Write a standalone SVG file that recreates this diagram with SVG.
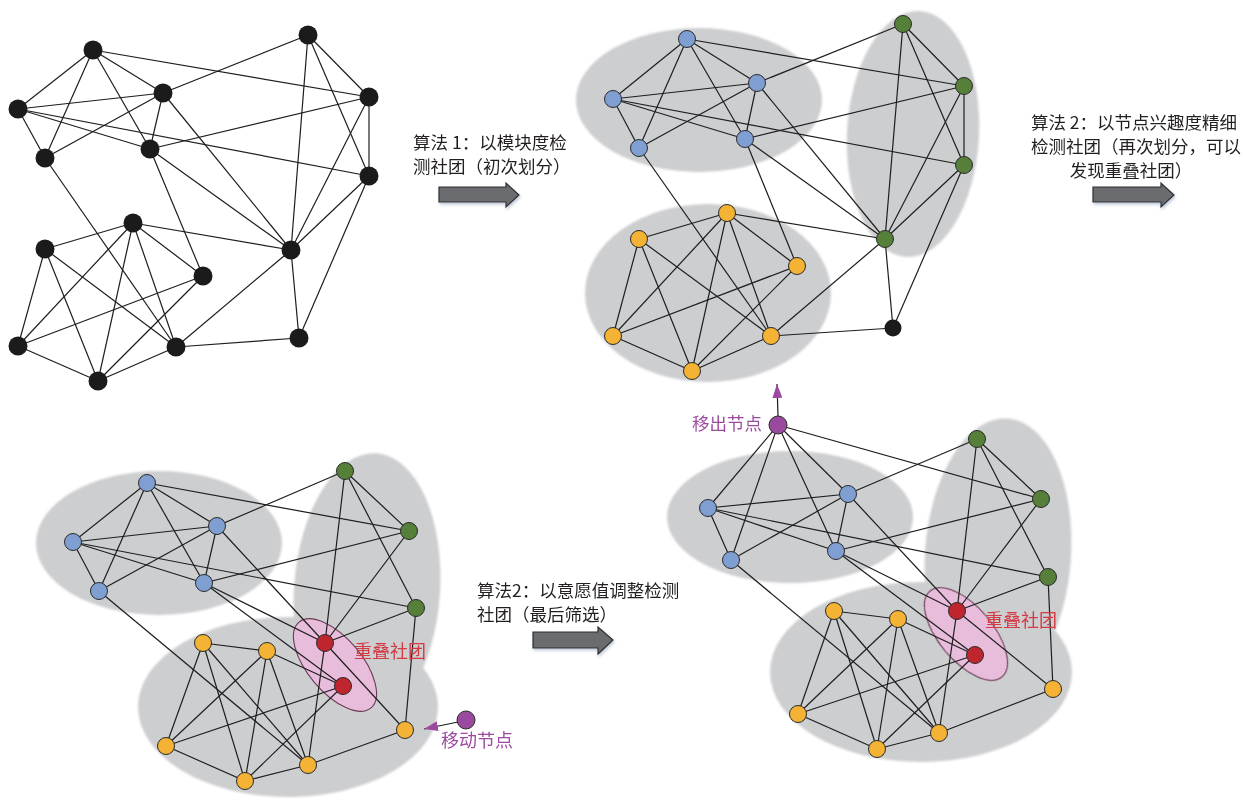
<svg xmlns="http://www.w3.org/2000/svg" width="1243" height="800" viewBox="0 0 1243 800">
  <style>
    .e { stroke: #1e1e1e; stroke-width: 1.2; fill: none; }
    .blk { fill: #1b1b1b; }
    .blu { fill: #7f9fd2; stroke: #2a2a2a; stroke-width: 1; }
    .grn { fill: #56803a; stroke: #2a2a2a; stroke-width: 1; }
    .yel { fill: #f4b334; stroke: #2a2a2a; stroke-width: 1; }
    .red { fill: #bf252c; stroke: #2a2a2a; stroke-width: 1; }
    .pur { fill: #994a9e; stroke: #2a2a2a; stroke-width: 1; }
    .zone { fill: #cdced0; }
    .pink { fill: #e8bddb; stroke: #6a3a55; stroke-width: 1.1; }
    .cap { font-family: "Noto Sans CJK SC", "Noto Sans", sans-serif; font-size: 17.5px; fill: #231f20; }
    .lab { font-family: "Noto Sans CJK SC", "Noto Sans", sans-serif; font-size: 18px; }
    .blockarrow { fill: #6b6c6f; stroke: #2e2e2e; stroke-width: 1.2; }
  </style>
  <defs>
    <filter id="soft" x="-10%" y="-10%" width="120%" height="120%">
      <feGaussianBlur stdDeviation="1.2"/>
    </filter>
    <filter id="shadow" x="-20%" y="-40%" width="140%" height="180%">
      <feDropShadow dx="1" dy="2" stdDeviation="1.5" flood-color="#7f93b0" flood-opacity="0.5"/>
    </filter>
    <marker id="purpleHead" viewBox="0 0 14 10" refX="14" refY="5" markerWidth="14" markerHeight="10" markerUnits="userSpaceOnUse" orient="auto">
      <path d="M0,0 L14,5 L0,10 z" fill="#9b4a9f"/>
    </marker>
  </defs>

  <rect width="1243" height="800" fill="#ffffff"/>

  <!-- community zones -->
  <g id="zones" filter="url(#soft)">
    <!-- top-right panel -->
    <ellipse class="zone" cx="699" cy="100" rx="123" ry="72"/>
    <ellipse class="zone" cx="913" cy="134" rx="66" ry="123" transform="rotate(3 913 134)"/>
    <ellipse class="zone" cx="708" cy="293" rx="123" ry="89"/>
    <!-- bottom-right panel -->
    <ellipse class="zone" cx="790" cy="517" rx="123" ry="66"/>
    <ellipse class="zone" cx="998" cy="555" rx="73" ry="137" transform="rotate(4 998 555)"/>
    <ellipse class="zone" cx="921" cy="672" rx="151" ry="90"/>
    <!-- bottom-left panel -->
    <ellipse class="zone" cx="159" cy="543" rx="123" ry="72"/>
    <ellipse class="zone" cx="367" cy="590" rx="73" ry="137" transform="rotate(4 367 590)"/>
    <ellipse class="zone" cx="288" cy="707" rx="150" ry="90"/>
  </g>
  <g id="overlap-zones">
    <ellipse class="pink" cx="966" cy="634" rx="56" ry="27" transform="rotate(50 966 634)"/>
    <ellipse class="pink" cx="335" cy="665" rx="56" ry="27" transform="rotate(50 335 665)"/>
  </g>

  <!-- connectors -->
  <g id="connectors" class="e">
    <!-- top-left graph -->
    <line x1="93" y1="50" x2="18" y2="109"/>
    <line x1="93" y1="50" x2="45" y2="158"/>
    <line x1="93" y1="50" x2="163" y2="93"/>
    <line x1="93" y1="50" x2="150" y2="149"/>
    <line x1="93" y1="50" x2="369" y2="97"/>
    <line x1="18" y1="109" x2="163" y2="93"/>
    <line x1="18" y1="109" x2="45" y2="158"/>
    <line x1="18" y1="109" x2="150" y2="149"/>
    <line x1="18" y1="109" x2="369" y2="176"/>
    <line x1="45" y1="158" x2="163" y2="93"/>
    <line x1="45" y1="158" x2="176" y2="347"/>
    <line x1="163" y1="93" x2="150" y2="149"/>
    <line x1="163" y1="93" x2="308" y2="35"/>
    <line x1="163" y1="93" x2="291" y2="250"/>
    <line x1="150" y1="149" x2="369" y2="97"/>
    <line x1="150" y1="149" x2="291" y2="250"/>
    <line x1="150" y1="149" x2="203" y2="276"/>
    <line x1="308" y1="35" x2="291" y2="250"/>
    <line x1="308" y1="35" x2="369" y2="97"/>
    <line x1="308" y1="35" x2="369" y2="176"/>
    <line x1="369" y1="97" x2="369" y2="176"/>
    <line x1="369" y1="97" x2="291" y2="250"/>
    <line x1="369" y1="176" x2="291" y2="250"/>
    <line x1="369" y1="176" x2="299" y2="338"/>
    <line x1="291" y1="250" x2="133" y2="223"/>
    <line x1="291" y1="250" x2="299" y2="338"/>
    <line x1="291" y1="250" x2="176" y2="347"/>
    <line x1="133" y1="223" x2="45" y2="249"/>
    <line x1="133" y1="223" x2="18" y2="346"/>
    <line x1="133" y1="223" x2="98" y2="381"/>
    <line x1="133" y1="223" x2="176" y2="347"/>
    <line x1="133" y1="223" x2="203" y2="276"/>
    <line x1="45" y1="249" x2="18" y2="346"/>
    <line x1="45" y1="249" x2="98" y2="381"/>
    <line x1="45" y1="249" x2="176" y2="347"/>
    <line x1="203" y1="276" x2="18" y2="346"/>
    <line x1="203" y1="276" x2="98" y2="381"/>
    <line x1="18" y1="346" x2="98" y2="381"/>
    <line x1="98" y1="381" x2="176" y2="347"/>
    <line x1="176" y1="347" x2="299" y2="338"/>

    <!-- top-right graph -->
    <line x1="687" y1="39" x2="613" y2="99"/>
    <line x1="687" y1="39" x2="639" y2="148"/>
    <line x1="687" y1="39" x2="757" y2="83"/>
    <line x1="687" y1="39" x2="745" y2="139"/>
    <line x1="687" y1="39" x2="964" y2="86"/>
    <line x1="613" y1="99" x2="757" y2="83"/>
    <line x1="613" y1="99" x2="639" y2="148"/>
    <line x1="613" y1="99" x2="745" y2="139"/>
    <line x1="613" y1="99" x2="964" y2="165"/>
    <line x1="639" y1="148" x2="757" y2="83"/>
    <line x1="639" y1="148" x2="771" y2="336"/>
    <line x1="757" y1="83" x2="745" y2="139"/>
    <line x1="757" y1="83" x2="903" y2="24"/>
    <line x1="757" y1="83" x2="885" y2="239"/>
    <line x1="745" y1="139" x2="964" y2="86"/>
    <line x1="745" y1="139" x2="885" y2="239"/>
    <line x1="745" y1="139" x2="797" y2="266"/>
    <line x1="903" y1="24" x2="885" y2="239"/>
    <line x1="903" y1="24" x2="964" y2="86"/>
    <line x1="903" y1="24" x2="964" y2="165"/>
    <line x1="964" y1="86" x2="964" y2="165"/>
    <line x1="964" y1="86" x2="885" y2="239"/>
    <line x1="964" y1="165" x2="885" y2="239"/>
    <line x1="964" y1="165" x2="893" y2="328"/>
    <line x1="885" y1="239" x2="727" y2="213"/>
    <line x1="885" y1="239" x2="893" y2="328"/>
    <line x1="885" y1="239" x2="771" y2="336"/>
    <line x1="727" y1="213" x2="639" y2="239"/>
    <line x1="727" y1="213" x2="613" y2="336"/>
    <line x1="727" y1="213" x2="692" y2="371"/>
    <line x1="727" y1="213" x2="771" y2="336"/>
    <line x1="727" y1="213" x2="797" y2="266"/>
    <line x1="639" y1="239" x2="613" y2="336"/>
    <line x1="639" y1="239" x2="692" y2="371"/>
    <line x1="639" y1="239" x2="771" y2="336"/>
    <line x1="797" y1="266" x2="613" y2="336"/>
    <line x1="797" y1="266" x2="692" y2="371"/>
    <line x1="613" y1="336" x2="692" y2="371"/>
    <line x1="692" y1="371" x2="771" y2="336"/>
    <line x1="771" y1="336" x2="893" y2="328"/>

    <!-- bottom-right graph -->
    <line x1="778" y1="425" x2="708" y2="508"/>
    <line x1="778" y1="425" x2="731" y2="560"/>
    <line x1="778" y1="425" x2="848" y2="494"/>
    <line x1="778" y1="425" x2="836" y2="551"/>
    <line x1="778" y1="425" x2="1041" y2="499"/>
    <line x1="708" y1="508" x2="848" y2="494"/>
    <line x1="708" y1="508" x2="731" y2="560"/>
    <line x1="708" y1="508" x2="836" y2="551"/>
    <line x1="708" y1="508" x2="1048" y2="577"/>
    <line x1="848" y1="494" x2="731" y2="560"/>
    <line x1="848" y1="494" x2="836" y2="551"/>
    <line x1="848" y1="494" x2="977" y2="439"/>
    <line x1="848" y1="494" x2="957" y2="611"/>
    <line x1="731" y1="560" x2="939" y2="733"/>
    <line x1="836" y1="551" x2="1041" y2="499"/>
    <line x1="836" y1="551" x2="957" y2="611"/>
    <line x1="836" y1="551" x2="975" y2="655"/>
    <line x1="977" y1="439" x2="1041" y2="499"/>
    <line x1="977" y1="439" x2="1048" y2="577"/>
    <line x1="977" y1="439" x2="957" y2="611"/>
    <line x1="1041" y1="499" x2="957" y2="611"/>
    <line x1="1048" y1="577" x2="957" y2="611"/>
    <line x1="1048" y1="577" x2="1053" y2="689"/>
    <line x1="957" y1="611" x2="1053" y2="689"/>
    <line x1="957" y1="611" x2="939" y2="733"/>
    <line x1="975" y1="655" x2="898" y2="619"/>
    <line x1="975" y1="655" x2="798" y2="714"/>
    <line x1="975" y1="655" x2="877" y2="749"/>
    <line x1="834" y1="611" x2="898" y2="619"/>
    <line x1="834" y1="611" x2="798" y2="714"/>
    <line x1="834" y1="611" x2="877" y2="749"/>
    <line x1="834" y1="611" x2="939" y2="733"/>
    <line x1="898" y1="619" x2="798" y2="714"/>
    <line x1="898" y1="619" x2="877" y2="749"/>
    <line x1="898" y1="619" x2="939" y2="733"/>
    <line x1="798" y1="714" x2="877" y2="749"/>
    <line x1="877" y1="749" x2="939" y2="733"/>
    <line x1="939" y1="733" x2="1053" y2="689"/>
    <line x1="778" y1="416" x2="777" y2="384" marker-end="url(#purpleHead)"/>

    <!-- bottom-left graph -->
    <line x1="147" y1="483" x2="73" y2="542"/>
    <line x1="147" y1="483" x2="99" y2="591"/>
    <line x1="147" y1="483" x2="217" y2="526"/>
    <line x1="147" y1="483" x2="204" y2="583"/>
    <line x1="147" y1="483" x2="409" y2="531"/>
    <line x1="73" y1="542" x2="217" y2="526"/>
    <line x1="73" y1="542" x2="99" y2="591"/>
    <line x1="73" y1="542" x2="204" y2="583"/>
    <line x1="73" y1="542" x2="416" y2="608"/>
    <line x1="217" y1="526" x2="99" y2="591"/>
    <line x1="217" y1="526" x2="204" y2="583"/>
    <line x1="217" y1="526" x2="345" y2="471"/>
    <line x1="217" y1="526" x2="325" y2="643"/>
    <line x1="99" y1="591" x2="308" y2="765"/>
    <line x1="204" y1="583" x2="409" y2="531"/>
    <line x1="204" y1="583" x2="325" y2="643"/>
    <line x1="204" y1="583" x2="343" y2="686"/>
    <line x1="345" y1="471" x2="409" y2="531"/>
    <line x1="345" y1="471" x2="416" y2="608"/>
    <line x1="345" y1="471" x2="325" y2="643"/>
    <line x1="409" y1="531" x2="325" y2="643"/>
    <line x1="416" y1="608" x2="325" y2="643"/>
    <line x1="416" y1="608" x2="405" y2="730"/>
    <line x1="325" y1="643" x2="405" y2="730"/>
    <line x1="325" y1="643" x2="308" y2="765"/>
    <line x1="343" y1="686" x2="267" y2="651"/>
    <line x1="343" y1="686" x2="166" y2="746"/>
    <line x1="343" y1="686" x2="245" y2="781"/>
    <line x1="203" y1="643" x2="267" y2="651"/>
    <line x1="203" y1="643" x2="166" y2="746"/>
    <line x1="203" y1="643" x2="245" y2="781"/>
    <line x1="203" y1="643" x2="308" y2="765"/>
    <line x1="267" y1="651" x2="166" y2="746"/>
    <line x1="267" y1="651" x2="245" y2="781"/>
    <line x1="267" y1="651" x2="308" y2="765"/>
    <line x1="166" y1="746" x2="245" y2="781"/>
    <line x1="245" y1="781" x2="308" y2="765"/>
    <line x1="308" y1="765" x2="405" y2="730"/>
    <line x1="458" y1="722" x2="424" y2="729" marker-end="url(#purpleHead)"/>
  </g>

  <!-- top-left graph nodes -->
  <g id="g1-nodes">
    <g id="g1-a"><circle class="blk" cx="93" cy="50" r="9.5"/></g>
    <g id="g1-b"><circle class="blk" cx="308" cy="35" r="9.5"/></g>
    <g id="g1-c"><circle class="blk" cx="163" cy="93" r="9.5"/></g>
    <g id="g1-d"><circle class="blk" cx="18" cy="109" r="9.5"/></g>
    <g id="g1-e"><circle class="blk" cx="369" cy="97" r="9.5"/></g>
    <g id="g1-f"><circle class="blk" cx="45" cy="158" r="9.5"/></g>
    <g id="g1-g"><circle class="blk" cx="150" cy="149" r="9.5"/></g>
    <g id="g1-h"><circle class="blk" cx="369" cy="176" r="9.5"/></g>
    <g id="g1-i"><circle class="blk" cx="133" cy="223" r="9.5"/></g>
    <g id="g1-j"><circle class="blk" cx="45" cy="249" r="9.5"/></g>
    <g id="g1-k"><circle class="blk" cx="203" cy="276" r="9.5"/></g>
    <g id="g1-l"><circle class="blk" cx="291" cy="250" r="9.5"/></g>
    <g id="g1-m"><circle class="blk" cx="18" cy="346" r="9.5"/></g>
    <g id="g1-n"><circle class="blk" cx="176" cy="347" r="9.5"/></g>
    <g id="g1-o"><circle class="blk" cx="299" cy="338" r="9.5"/></g>
    <g id="g1-p"><circle class="blk" cx="98" cy="381" r="9.5"/></g>
  </g>

  <!-- top-right graph nodes -->
  <g id="g2-nodes">
    <g id="g2-b1"><circle class="blu" cx="687" cy="39" r="8.5"/></g>
    <g id="g2-b2"><circle class="blu" cx="757" cy="83" r="8.5"/></g>
    <g id="g2-b3"><circle class="blu" cx="613" cy="99" r="8.5"/></g>
    <g id="g2-b4"><circle class="blu" cx="639" cy="148" r="8.5"/></g>
    <g id="g2-b5"><circle class="blu" cx="745" cy="139" r="8.5"/></g>
    <g id="g2-g1"><circle class="grn" cx="903" cy="24" r="8.5"/></g>
    <g id="g2-g2"><circle class="grn" cx="964" cy="86" r="8.5"/></g>
    <g id="g2-g3"><circle class="grn" cx="964" cy="165" r="8.5"/></g>
    <g id="g2-g4"><circle class="grn" cx="885" cy="239" r="8.5"/></g>
    <g id="g2-k"><circle class="blk" cx="893" cy="328" r="8.5"/></g>
    <g id="g2-y1"><circle class="yel" cx="727" cy="213" r="8.5"/></g>
    <g id="g2-y2"><circle class="yel" cx="639" cy="239" r="8.5"/></g>
    <g id="g2-y3"><circle class="yel" cx="797" cy="266" r="8.5"/></g>
    <g id="g2-y4"><circle class="yel" cx="613" cy="336" r="8.5"/></g>
    <g id="g2-y5"><circle class="yel" cx="771" cy="336" r="8.5"/></g>
    <g id="g2-y6"><circle class="yel" cx="692" cy="371" r="8.5"/></g>
  </g>

  <!-- bottom-right graph nodes -->
  <g id="g3-nodes">
    <g id="g3-p"><circle class="pur" cx="778" cy="425" r="9"/></g>
    <g id="g3-b2"><circle class="blu" cx="848" cy="494" r="8.5"/></g>
    <g id="g3-b3"><circle class="blu" cx="708" cy="508" r="8.5"/></g>
    <g id="g3-b4"><circle class="blu" cx="731" cy="560" r="8.5"/></g>
    <g id="g3-b5"><circle class="blu" cx="836" cy="551" r="8.5"/></g>
    <g id="g3-g1"><circle class="grn" cx="977" cy="439" r="8.5"/></g>
    <g id="g3-g2"><circle class="grn" cx="1041" cy="499" r="8.5"/></g>
    <g id="g3-g3"><circle class="grn" cx="1048" cy="577" r="8.5"/></g>
    <g id="g3-r1"><circle class="red" cx="957" cy="611" r="8.5"/></g>
    <g id="g3-r2"><circle class="red" cx="975" cy="655" r="8.5"/></g>
    <g id="g3-ya"><circle class="yel" cx="834" cy="611" r="8.5"/></g>
    <g id="g3-yb"><circle class="yel" cx="898" cy="619" r="8.5"/></g>
    <g id="g3-yc"><circle class="yel" cx="798" cy="714" r="8.5"/></g>
    <g id="g3-yd"><circle class="yel" cx="877" cy="749" r="8.5"/></g>
    <g id="g3-ye"><circle class="yel" cx="939" cy="733" r="8.5"/></g>
    <g id="g3-yf"><circle class="yel" cx="1053" cy="689" r="8.5"/></g>
  </g>

  <!-- bottom-left graph nodes -->
  <g id="g4-nodes">
    <g id="g4-b1"><circle class="blu" cx="147" cy="483" r="8.5"/></g>
    <g id="g4-b2"><circle class="blu" cx="217" cy="526" r="8.5"/></g>
    <g id="g4-b3"><circle class="blu" cx="73" cy="542" r="8.5"/></g>
    <g id="g4-b4"><circle class="blu" cx="99" cy="591" r="8.5"/></g>
    <g id="g4-b5"><circle class="blu" cx="204" cy="583" r="8.5"/></g>
    <g id="g4-g1"><circle class="grn" cx="345" cy="471" r="8.5"/></g>
    <g id="g4-g2"><circle class="grn" cx="409" cy="531" r="8.5"/></g>
    <g id="g4-g3"><circle class="grn" cx="416" cy="608" r="8.5"/></g>
    <g id="g4-r1"><circle class="red" cx="325" cy="643" r="8.5"/></g>
    <g id="g4-r2"><circle class="red" cx="343" cy="686" r="8.5"/></g>
    <g id="g4-ya"><circle class="yel" cx="203" cy="643" r="8.5"/></g>
    <g id="g4-yb"><circle class="yel" cx="267" cy="651" r="8.5"/></g>
    <g id="g4-yc"><circle class="yel" cx="166" cy="746" r="8.5"/></g>
    <g id="g4-yd"><circle class="yel" cx="245" cy="781" r="8.5"/></g>
    <g id="g4-ye"><circle class="yel" cx="308" cy="765" r="8.5"/></g>
    <g id="g4-yf"><circle class="yel" cx="405" cy="730" r="8.5"/></g>
    <g id="g4-p"><circle class="pur" cx="466" cy="720" r="9"/></g>
  </g>

  <!-- node labels -->
  <g id="labels" class="lab">
    <text x="692" y="430" fill="#9b4a9f" font-size="17.5">移出节点</text>
    <text x="985" y="626.5" fill="#d43a44">重叠社团</text>
    <text x="354" y="657.5" fill="#d43a44">重叠社团</text>
    <text x="441" y="746.5" fill="#9b4a9f">移动节点</text>
  </g>

  <!-- step captions and arrows -->
  <g id="step1">
    <text class="cap" x="413" y="149">算法 1：以模块度检<tspan x="413" dy="24">测社团（初次划分）</tspan></text>
    <path class="blockarrow" filter="url(#shadow)" d="M439,187 L506,187 L506,183 L519,195 L506,207 L506,202 L439,202 Z"/>
  </g>
  <g id="step2">
    <text class="cap" x="1134" y="129" text-anchor="middle">算法 2：以节点兴趣度精细<tspan x="1136" dy="24">检测社团（再次划分，可以</tspan><tspan x="1131" dy="24">发现重叠社团）</tspan></text>
    <path class="blockarrow" filter="url(#shadow)" d="M1093,187 L1161,187 L1161,183 L1174,195 L1161,207 L1161,202 L1093,202 Z"/>
  </g>
  <g id="step3">
    <text class="cap" x="477" y="596.5">算法2：以意愿值调整检测<tspan x="477" dy="24">社团（最后筛选）</tspan></text>
    <path class="blockarrow" filter="url(#shadow)" d="M533,632 L598,632 L598,627 L613,640 L598,654 L598,648 L533,648 Z"/>
  </g>
</svg>
